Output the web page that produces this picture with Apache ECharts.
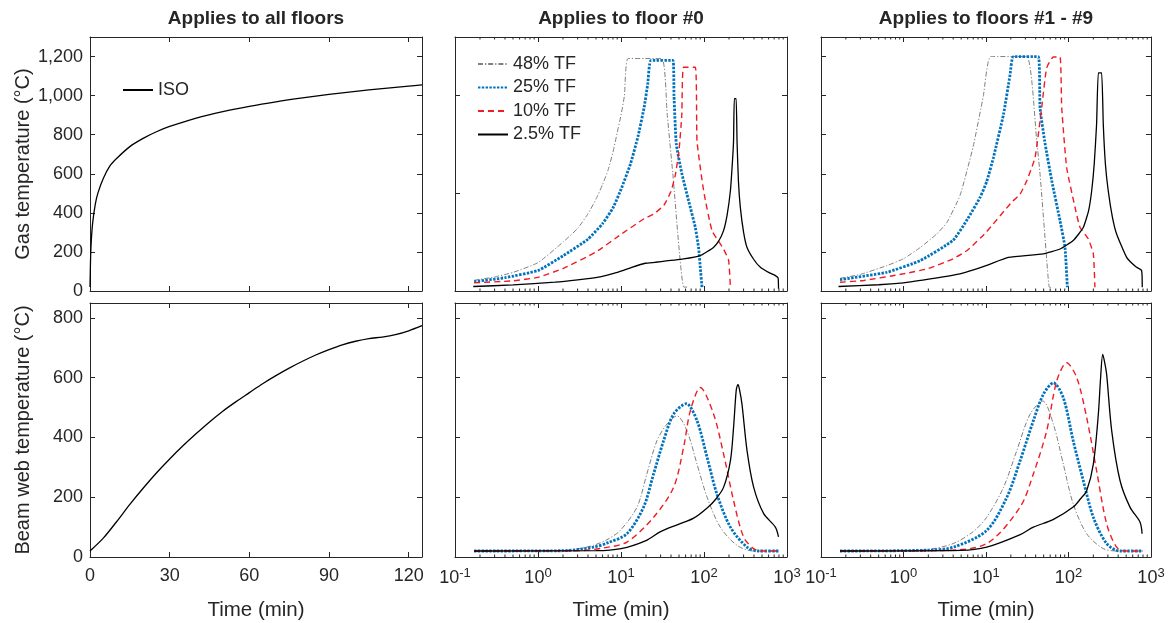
<!DOCTYPE html>
<html><head><meta charset="utf-8">
<script src="https://cdn.jsdelivr.net/npm/echarts@6/dist/echarts.min.js"></script>
<style>html,body{margin:0;padding:0;background:#fff}#c{width:1171px;height:623px}</style>
</head><body><div id="c"></div>
<script>
// ---------- data (time in min, temperature in °C) ----------
const panelTitles = ['Applies to all floors', 'Applies to floor #0', 'Applies to floors #1 - #9'];
const seriesNames = ['48% TF', '25% TF', '10% TF', '2.5% TF'];
const isoName = 'ISO';

const isoGas = [[0,20],[0.25,185],[0.5,261],[1,349],[2,445],[3,502],[5,576],[7.5,640],[10,678],[15,739],[20,781],[25,815],[30,842],[40,885],[50,918],[60,945],[70,968],[80,988],[90,1006],[100,1022],[110,1036],[120,1049],[125,1055]];
const isoBeam = [[0,20],[5,63],[10,118],[15,176],[20,230],[25,281],[30,328],[35,372],[40,413],[45,452],[50,488],[55,520],[60,550],[65,580],[70,607],[75,632],[80,655],[85,676],[90,694],[95,710],[100,722],[105,731],[110,736],[115,744],[120,757],[125,774]];

const f0Gas48 = [[0.17,55],[0.3,72],[0.5,95],[1,145],[2,250],[3,320],[4,395],[5,470],[6,545],[7,620],[8,710],[9,810],[10,900],[11,1000],[12.2,1190],[31,1190],[36,905],[42,605],[57,20],[65,20]];
const f0Gas25 = [[0.17,48],[0.4,68],[1,105],[2,180],[4,265],[6,345],[8,425],[10,520],[13,650],[16,790],[19,940],[21,1060],[23,1180],[42.3,1180],[43.5,1000],[46.4,751],[54.3,598],[65.2,462],[78.5,326],[86,223],[90.2,121],[94.6,19]];
const f0Gas10 = [[0.17,42],[0.5,52],[1,70],[2,115],[5,200],[10,290],[19,370],[25,395],[33,440],[40,510],[45,590],[50,720],[54,900],[56.8,1145],[78.5,1145],[82.4,768],[99,513],[125,309],[172,215],[198,156],[208,19]];
const f0Gas2_5 = [[0.166,23],[0.5,31],[1.6,45],[3,57],[5.6,72],[9,95],[13.5,121],[19.6,142],[25.9,147],[56.8,164],[90,181],[130,223],[150,255],[172,309],[190,390],[208,513],[220,660],[227,768],[232,985],[244,985],[250,768],[260,560],[274,428],[300,300],[330,223],[400,160],[478,121],[600,95],[724,79],[781,67],[790,11]];

const f1Gas48 = [[0.17,65],[0.3,85],[0.63,130],[1,165],[1.6,223],[2.5,290],[3.35,350],[4.85,490],[7,740],[9.3,1000],[11.4,1200],[31.2,1200],[41.2,768],[45.2,598],[57,54],[58.6,20],[65,18]];
const f1Gas25 = [[0.17,58],[0.63,96],[1.6,156],[4,260],[6,370],[8.5,480],[10.2,560],[12.3,683],[16.3,904],[19.6,1108],[21.5,1200],[43,1200],[45.2,938],[51.4,768],[62.7,564],[78.9,360],[90.7,223],[96.8,19]];
const f1Gas10 = [[0.17,45],[0.33,54],[1,88],[2,115],[4,165],[6,210],[10,300],[20,450],[25.9,496],[31.2,564],[39.3,683],[47.3,938],[54.4,1142],[65.5,1198],[78.9,1198],[82.8,938],[95,632],[120,428],[138,325],[174,266],[200,190],[209,19]];
const f1Gas2_5 = [[0.163,23],[0.5,32],[1,42],[1.6,54],[4.85,88],[10,130],[18.7,172],[49.5,190],[78.9,215],[114,258],[151,325],[175,410],[191,513],[205,650],[219,853],[230,1116],[252,1116],[264,853],[280,650],[303,513],[340,380],[383,292],[507,172],[650,125],[769,105],[783,19]];

const f0Beam48 = [[0.17,20],[1,20],[2,22],[3,27],[4.66,39],[7,60],[9.8,89],[15.6,167],[20.5,278],[27.1,389],[35.8,445],[47.2,472],[62.4,422],[82.4,311],[109,200],[157,100],[250,39],[397,20],[790,20]];
const f0Beam25 = [[0.17,20],[2,21],[4.66,33],[7,48],[11.8,78],[18.7,167],[24.7,278],[32.6,389],[43,478],[61.2,513],[82.4,456],[109,333],[143,211],[208,100],[330,33],[450,20],[790,20]];
const f0Beam10 = [[0.17,20],[3,21],[6,30],[11.8,50],[24.7,133],[43,233],[56.8,367],[68.4,489],[90.2,567],[130.6,478],[172,345],[227,189],[300,67],[397,28],[500,20],[790,20]];
const f0Beam2_5 = [[0.17,20],[5,21],[10,28],[20,55],[30,85],[50,110],[75,130],[110,165],[140,195],[172,233],[208,322],[227,433],[245,560],[257,578],[270,555],[287,511],[330,356],[397,233],[524,145],[724,100],[790,67]];

const f1Beam48 = [[0.17,20],[1,21],[2,25],[4,45],[7,85],[10.2,133],[16.3,233],[23.6,356],[34.2,478],[48.7,522],[65.5,445],[86.5,311],[114,178],[166,78],[264,28],[400,20],[790,20]];
const f1Beam25 = [[0.17,20],[2,23],[4.03,33],[10.2,89],[17.9,200],[25.9,322],[37.5,456],[49.7,545],[65.5,583],[86.5,533],[114,389],[151,256],[200,133],[290,45],[420,20],[790,20]];
const f1Beam10 = [[0.17,20],[3,22],[10.2,45],[25.9,167],[37.5,278],[54.4,422],[72,589],[95,650],[126,600],[166,467],[219,289],[290,111],[383,33],[500,20],[790,20]];
const f1Beam2_5 = [[0.17,20],[5,22],[10.2,33],[26,75],[37.5,100],[65,125],[114,167],[140,195],[166,222],[200,311],[230,478],[245,600],[260,678],[275,650],[290,611],[334,422],[421,256],[556,167],[735,117],[780,78]];

// ---------- styling ----------
const FONT = '"Liberation Sans", Arial, Helvetica, sans-serif';
const INK = '#262626';
const styles = [
  {color:'#808080', width:1, type:[5,2,1.2,2]},
  {color:'#0072BD', width:2.8, type:[2.4,1.4], cap:'butt'},
  {color:'#ee1c25', width:1.4, type:[6,4]},
  {color:'#000000', width:1.3, type:'solid'}
];

const grids = [
  {left:90,  top:37,  width:332, height:254},
  {left:455, top:37,  width:332, height:254},
  {left:821, top:37,  width:330, height:254},
  {left:90,  top:303, width:332, height:254},
  {left:455, top:303, width:332, height:254},
  {left:821, top:303, width:330, height:254}
];

const chart = echarts.init(document.getElementById('c'), null, {renderer:'canvas'});
const xAxes = [], yAxes = [], series = [];
const lineStyleAx = {color:INK, width:1};
const txt = {fontFamily:FONT, fontSize:18, color:INK};

function comma(v){ return String(v).replace(/\B(?=(\d{3})+(?!\d))/g, ','); }

grids.forEach((g, gi) => {
  const isLog = (gi % 3) !== 0;
  const isBottom = gi >= 3;
  const col = gi % 3;
  for (const pos of ['bottom','top']) {
    const a = {
      gridIndex: gi, position: pos, type: isLog ? 'log' : 'value',
      axisLine: {show:true, onZero:false, lineStyle:lineStyleAx},
      axisTick: {show:true, inside:true, length:5, lineStyle:lineStyleAx},
      splitLine: {show:false}, minorTick:{show:false},
      axisLabel: {show:false}
    };
    if (isLog) { a.logBase = 10; a.min = 0.1; a.max = 1000; }
    else { a.min = 0; a.max = 125; a.interval = 30; }
    if (pos === 'bottom' && isBottom) {
      a.name = 'Time (min)'; a.nameLocation = 'middle'; a.nameGap = 43;
      a.nameTextStyle = {fontFamily:FONT, fontSize:20.5, color:INK};
      a.nameMoveOverlap = false;
      if (isLog) {
        a.axisLabel = {show:true, margin:10, showMinLabel:true, showMaxLabel:true,
          formatter: v => '{b|10}{s|' + Math.round(Math.log10(v)) + '}',
          rich: {b:{fontFamily:FONT, fontSize:18, color:INK}, s:{fontFamily:FONT, fontSize:13, color:INK, padding:[0,0,9,0]}}};
      } else {
        a.axisLabel = Object.assign({show:true, margin:10, showMaxLabel:false}, txt);
      }
    }
    if (pos === 'top' && !isBottom) {
      a.name = panelTitles[col]; a.nameLocation = 'middle'; a.nameGap = 9;
      a.nameTextStyle = {fontFamily:FONT, fontSize:19, fontWeight:'bold', color:INK};
      a.nameMoveOverlap = false;
    }
    xAxes.push(a);
  }
  for (const pos of ['left','right']) {
    const a = {
      gridIndex: gi, position: pos, type:'value', min:0,
      max: isBottom ? 850 : 1300,
      interval: (!isBottom && col === 1) ? 500 : 200,
      axisLine: {show:true, onZero:false, lineStyle:lineStyleAx},
      axisTick: {show:true, inside:true, length:5, lineStyle:lineStyleAx},
      splitLine: {show:false},
      axisLabel: {show:false}
    };
    if (pos === 'left' && col === 0) {
      a.axisLabel = Object.assign({show:true, margin:7, showMaxLabel:false, formatter: comma}, txt);
      a.name = isBottom ? 'Beam web temperature (°C)' : 'Gas temperature (°C)';
      a.nameLocation = 'middle'; a.nameGap = 57; a.nameRotate = 90;
      a.nameTextStyle = {fontFamily:FONT, fontSize:20, color:INK};
      a.nameMoveOverlap = false;
    }
    yAxes.push(a);
  }
});

function addLine(gi, name, data, st, smooth) {
  series.push({
    name, type:'line', xAxisIndex: gi*2, yAxisIndex: gi*2, data,
    symbol:'none', showSymbol:false, smooth: smooth || false, color: st.color,
    lineStyle: {color: st.color, width: st.width, type: st.type, cap: st.cap || 'butt'},
    animation:false, silent:true
  });
}

addLine(0, isoName, isoGas, styles[3], 0.3);
addLine(3, isoName, isoBeam, styles[3], 0.3);
[[f0Gas48,f0Gas25,f0Gas10,f0Gas2_5],[f1Gas48,f1Gas25,f1Gas10,f1Gas2_5]].forEach((set, k) => {
  set.forEach((d, i) => addLine(1 + k, seriesNames[i], d, styles[i], 0.15));
});
[[f0Beam48,f0Beam25,f0Beam10,f0Beam2_5],[f1Beam48,f1Beam25,f1Beam10,f1Beam2_5]].forEach((set, k) => {
  set.forEach((d, i) => addLine(4 + k, seriesNames[i], d, styles[i], 0.3));
});

const legendBase = {orient:'vertical', padding:0, itemWidth:30, itemHeight:14, itemGap:5.5,
  selectedMode:false, itemStyle:{color:'rgba(0,0,0,0)', borderColor:'rgba(0,0,0,0)', borderWidth:0},
  textStyle:{fontFamily:FONT, fontSize:18, color:INK}};

chart.setOption({
  animation:false,
  backgroundColor:'#ffffff',
  textStyle:{fontFamily:FONT},
  grid: grids.map(g => Object.assign({containLabel:false, outerBoundsMode:'none'}, g)),
  xAxis: xAxes, yAxis: yAxes,
  legend: [
    Object.assign({data:[isoName], left:122, top:81}, legendBase),
    Object.assign({data:seriesNames, left:477, top:55}, legendBase)
  ],
  series
});

// minor ticks for log axes (2..9 of each decade), on bottom and top edges
const minor = [];
[1,2,4,5].forEach(gi => {
  const g = grids[gi];
  const top = g.top, bot = g.top + g.height;
  for (let d = -1; d <= 2; d++) for (let k = 2; k <= 9; k++) {
    const v = k * Math.pow(10, d);
    const px = chart.convertToPixel({xAxisIndex: gi*2}, v);
    minor.push({type:'line', silent:true, shape:{x1:px, y1:bot, x2:px, y2:bot-2.5}, style:{stroke:INK, lineWidth:1}});
    minor.push({type:'line', silent:true, shape:{x1:px, y1:top, x2:px, y2:top+2.5}, style:{stroke:INK, lineWidth:1}});
  }
});
chart.setOption({graphic: minor});
</script>
</body></html>
